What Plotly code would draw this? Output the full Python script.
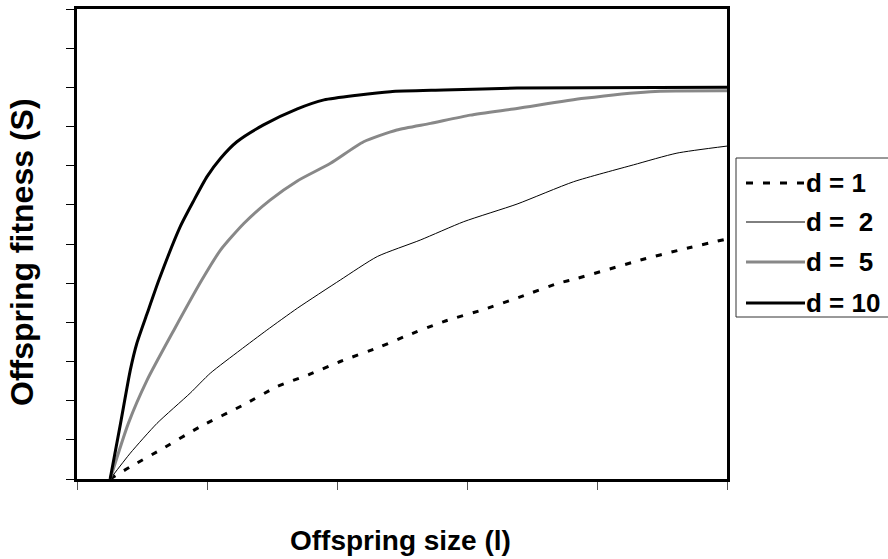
import plotly.graph_objects as go

# Offspring size (l) and offspring fitness (S) for each value of d
size_d1 = [5.1, 8.2, 12.8, 19.0, 25.6, 30.8, 35.6, 40.5, 46.7, 50.3, 56.4, 62.6, 68.2, 74.1, 76.9, 86.7, 92.8, 100]
fit_d1 = [0, 0.031, 0.074, 0.134, 0.189, 0.236, 0.266, 0.300, 0.338, 0.363, 0.402, 0.433, 0.465, 0.500, 0.512, 0.559, 0.585, 0.613]

size_d2 = [5.1, 8.2, 12.3, 17.4, 20.5, 25.1, 29.2, 33.9, 40.5, 46.2, 52.8, 59.5, 67.7, 76.4, 85.6, 92.3, 100]
fit_d2 = [0, 0.066, 0.142, 0.219, 0.270, 0.329, 0.380, 0.436, 0.508, 0.568, 0.610, 0.657, 0.702, 0.759, 0.802, 0.832, 0.850]

size_d5 = [5.1, 7.9, 10.8, 14.9, 19.2, 22.1, 25.7, 29.7, 33.9, 39.0, 44.1, 49.2, 54.4, 60.5, 67.7, 78.0, 88.2, 100]
fit_d5 = [0, 0.142, 0.253, 0.380, 0.508, 0.585, 0.653, 0.712, 0.761, 0.806, 0.861, 0.891, 0.908, 0.929, 0.946, 0.972, 0.989, 0.991]

size_d10 = [5.1, 6.7, 8.2, 9.2, 10.8, 12.6, 15.9, 18.0, 20.0, 22.1, 24.6, 28.7, 33.9, 38.0, 43.1, 48.2, 56.4, 67.7, 100]
fit_d10 = [0, 0.142, 0.278, 0.346, 0.423, 0.508, 0.645, 0.712, 0.772, 0.819, 0.861, 0.904, 0.945, 0.968, 0.980, 0.989, 0.993, 0.998, 1.0]

series_labels = ["d = 1", "d =\u00a0 2", "d =\u00a0 5", "d = 10"]
series_styles = [
    dict(color="black", width=3, dash="6px,10px"),
    dict(color="black", width=1, dash="solid"),
    dict(color="#888888", width=3, dash="solid"),
    dict(color="black", width=3, dash="solid"),
]
legend_dash = ["7px,10px", "solid", "solid", "solid"]

FONT = "Arial, 'Liberation Sans', sans-serif"
W, H = 888, 559
L, R, T, B = 77, 161, 9, 80
PW, PH = W - L - R, H - T - B


def px_x(p):
    return (p - L) / PW


def px_y(p):
    return (H - B - p) / PH


fig = go.Figure()
for xs, ys, name, st in zip(
    [size_d1, size_d2, size_d5, size_d10],
    [fit_d1, fit_d2, fit_d5, fit_d10],
    series_labels,
    series_styles,
):
    fig.add_trace(go.Scatter(x=xs, y=ys, mode="lines", name=name, line=dict(shape="spline", smoothing=0.6, **st),
                             showlegend=False))

# Legend box, drawn in paper coordinates beside the plot
shapes = [
    dict(type="rect", xref="paper", yref="paper",
         x0=px_x(736), x1=px_x(905), y0=px_y(158), y1=px_y(317),
         line=dict(color="#333333", width=1), fillcolor="white", layer="below"),
]
annotations = []
row_y = [183, 222, 262, 303]
for yy, name, st, dsh in zip(row_y, series_labels, series_styles, legend_dash):
    shapes.append(dict(type="line", xref="paper", yref="paper",
                       x0=px_x(746), x1=px_x(805), y0=px_y(yy), y1=px_y(yy),
                       line=dict(color=st["color"], width=st["width"], dash=dsh)))
    annotations.append(dict(xref="paper", yref="paper", x=px_x(804), y=px_y(yy),
                            xanchor="left", yanchor="middle", showarrow=False,
                            text="<b>%s</b>" % name,
                            font=dict(family=FONT, size=26, color="black")))

# Axis titles
annotations.append(dict(xref="paper", yref="paper", x=px_x(400), y=px_y(540),
                        xanchor="center", yanchor="middle", showarrow=False,
                        text="<b>Offspring size (l)</b>",
                        font=dict(family=FONT, size=28, color="black")))
annotations.append(dict(xref="paper", yref="paper", x=px_x(22), y=px_y(252),
                        xanchor="center", yanchor="middle", showarrow=False, textangle=-90,
                        text="<b>Offspring fitness (S)</b>",
                        font=dict(family=FONT, size=32, color="black")))

fig.update_layout(
    width=W, height=H,
    margin=dict(l=L, r=R, t=T, b=B, autoexpand=False),
    paper_bgcolor="white", plot_bgcolor="white",
    showlegend=False,
    shapes=shapes,
    annotations=annotations,
    font=dict(family=FONT),
)
fig.update_xaxes(range=[0, 100], tick0=0, dtick=20, ticks="outside", ticklen=8, tickwidth=1,
                 tickcolor="#555555", showticklabels=False, showgrid=False, zeroline=False,
                 showline=True, linecolor="black", linewidth=3, mirror=True)
fig.update_yaxes(range=[0, 1.2], tick0=0, dtick=0.1, ticks="outside", ticklen=8, tickwidth=1,
                 tickcolor="black", showticklabels=False, showgrid=False, zeroline=False,
                 showline=True, linecolor="black", linewidth=3, mirror=True)

fig.write_html("out.html")
